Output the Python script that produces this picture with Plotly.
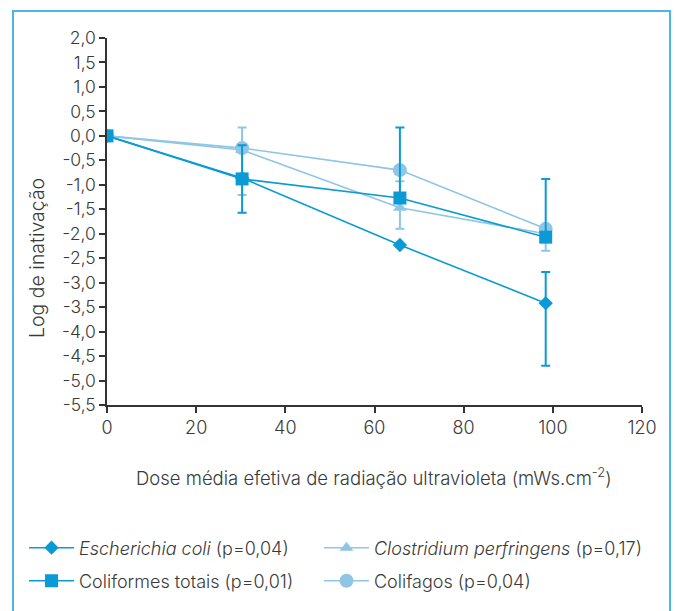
import plotly.graph_objects as go

# ---- data ----
dose = [0, 30.3, 65.7, 98.4]

ecoli = [0, -0.86, -2.23, -3.42]
ecoli_plus = [0, 0, 0, 0.64]
ecoli_minus = [0, 0, 0, 1.28]

coliformes = [0, -0.88, -1.27, -2.07]
coliformes_plus = [0, 0.69, 1.44, 1.19]
coliformes_minus = [0, 0.69, 0, 0]

clostridium = [0, -0.29, -1.47, -2.0]
clostridium_plus = [0, 0.46, 0.54, 0]
clostridium_minus = [0, 0.92, 0.43, 0]

colifagos = [0, -0.25, -0.70, -1.90]
colifagos_plus = [0, 0, 0, 0]
colifagos_minus = [0, 0, 0, 0.45]

y_tickvals = [2.0, 1.5, 1.0, 0.5, 0.0, -0.5, -1.0, -1.5, -2.0, -2.5, -3.0, -3.5, -4.0, -4.5, -5.0, -5.5]
y_ticktext = ["2,0", "1,5", "1,0", "0,5", "0,0", "-0,5", "-1,0", "-1,5", "-2,0", "-2,5",
              "-3,0", "-3,5", "-4,0", "-4,5", "-5,0", "-5,5"]
x_tickvals = [0, 20, 40, 60, 80, 100, 120]

names = {
    "ecoli": "<i>Escherichia coli</i> (p=0,04)",
    "clos": "<i>Clostridium perfringens</i> (p=0,17)",
    "colif": "Coliformes totais (p=0,01)",
    "fagos": "Colifagos (p=0,04)",
}

DARK = "#0a9bd6"
LIGHT = "#8fc6e6"
TXT = "#3a3a3a"
FONT = "Inter"
WT = 300

fig = go.Figure()


def add(y, plus, minus, name, color, symbol, size, legend):
    fig.add_trace(go.Scatter(
        x=dose, y=y, name=name, mode="lines+markers",
        line=dict(color=color, width=1.6),
        marker=dict(symbol=symbol, size=size, color=color),
        error_y=dict(type="data", symmetric=False, array=plus, arrayminus=minus,
                     color=color, thickness=2, width=4.5),
        legend=legend,
    ))


add(ecoli, ecoli_plus, ecoli_minus, names["ecoli"], DARK, "diamond", 11, "legend")
add(clostridium, clostridium_plus, clostridium_minus, names["clos"], LIGHT, "triangle-up", 12, "legend2")
add(colifagos, colifagos_plus, colifagos_minus, names["fagos"], LIGHT, "circle", 14, "legend4")
add(coliformes, coliformes_plus, coliformes_minus, names["colif"], DARK, "square", 13, "legend3")

L, R, T, B = 107, 33, 38, 206
W, H = 675, 611
pw, ph = W - L - R, H - T - B


def px(xp):
    return (xp - L) / pw


def py(yp):
    return (H - B - yp) / ph


legend_common = dict(orientation="h", xanchor="left", yanchor="middle",
                     font=dict(family=FONT, size=18, color=TXT, weight=WT),
                     itemwidth=45, bgcolor="rgba(0,0,0,0)")

fig.update_layout(
    width=W, height=H,
    margin=dict(l=L, r=R, t=T, b=B),
    paper_bgcolor="white", plot_bgcolor="white",
    font=dict(family=FONT, size=16, color=TXT, weight=WT),
    showlegend=True,
    legend=dict(x=px(24), y=py(548), **legend_common),
    legend2=dict(x=px(319), y=py(548), **legend_common),
    legend3=dict(x=px(24), y=py(581), **legend_common),
    legend4=dict(x=px(319), y=py(581), **legend_common),
    xaxis=dict(range=[0, 120], tickvals=x_tickvals, showgrid=False, zeroline=False,
               showline=True, linecolor="#333333", linewidth=1.5,
               ticks="outside", ticklen=6, tickcolor="#333333", tickwidth=1.5,
               tickfont=dict(family=FONT, size=18, color=TXT, weight=WT)),
    yaxis=dict(range=[-5.5, 2.0], tickvals=y_tickvals, ticktext=y_ticktext,
               showgrid=False, zeroline=False,
               showline=True, linecolor="#333333", linewidth=1.5,
               ticks="outside", ticklen=6, tickcolor="#333333", tickwidth=1.5,
               tickfont=dict(family=FONT, size=17.5, color=TXT, weight=WT)),
    annotations=[
        dict(text="Dose média efetiva de radiação ultravioleta (mWs.cm<sup>-2</sup>)",
             xref="paper", yref="paper", x=px(374), y=py(476), showarrow=False,
             xanchor="center", yanchor="middle",
             font=dict(family=FONT, size=18.5, color=TXT, weight=WT)),
        dict(text="Log de inativação", xref="paper", yref="paper",
             x=px(37), y=py(258), showarrow=False, textangle=-90,
             xanchor="center", yanchor="middle",
             font=dict(family=FONT, size=19.5, color=TXT, weight=WT)),
    ],
    shapes=[
        dict(type="rect", xref="paper", yref="paper",
             x0=px(13), x1=px(670), y0=py(640), y1=py(11),
             line=dict(color="#4db6e0", width=2), fillcolor="rgba(0,0,0,0)", layer="below"),
    ],
)

fig.write_html("out.html", config={"displayModeBar": False},
               post_script="document.body.style.margin='0';")
